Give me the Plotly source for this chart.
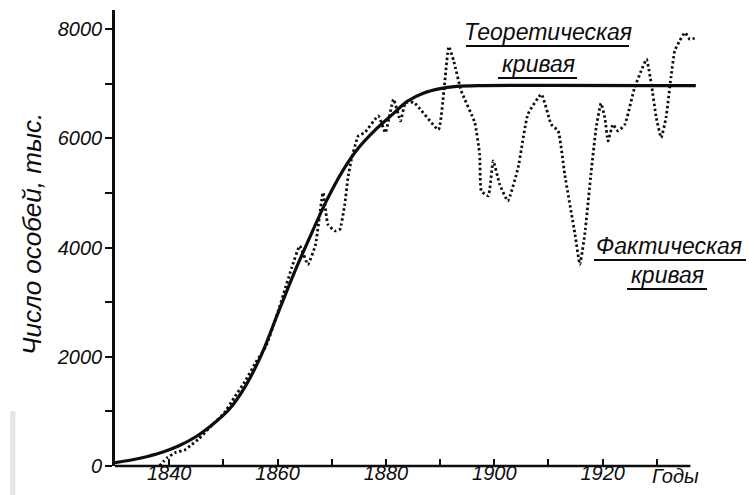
import plotly.graph_objects as go

# ---------------- data ----------------
theory_years = [1830, 1833, 1836, 1839, 1842, 1845, 1848, 1851, 1854, 1857, 1860,
                1863, 1866, 1869, 1872, 1875, 1878, 1881, 1884, 1887, 1890, 1893,
                1897, 1937.2]
theory_values = [60, 110, 175, 260, 380, 540, 760, 1030, 1450, 2030, 2780,
                 3520, 4200, 4850, 5400, 5830, 6150, 6420, 6680, 6830, 6910, 6950,
                 6965, 6965]

actual_years = [1838.2, 1839.6, 1841.2, 1842.8, 1844.0, 1845.5, 1848.0, 1850.0, 1852.0,
                1854.0, 1856.0, 1857.9, 1860.0, 1862.6, 1864.1, 1865.6, 1867.0, 1868.4,
                1869.3, 1870.6, 1871.5, 1872.4, 1873.0, 1873.6, 1874.9, 1876.1, 1878.6,
                1879.9, 1881.4, 1882.7, 1883.6, 1885.2, 1889.7, 1890.7, 1891.6, 1892.5,
                1893.9, 1896.4, 1897.3, 1897.6, 1898.9, 1899.8, 1901.0, 1902.5, 1904.4,
                1906.2, 1908.7, 1910.5, 1911.8, 1913.0, 1914.9, 1915.8, 1916.7, 1917.9,
                1918.8, 1919.7, 1920.4, 1921.0, 1921.9, 1922.8, 1924.1, 1925.9, 1927.1,
                1928.1, 1929.0, 1929.9, 1930.8, 1931.7, 1932.6, 1933.3, 1934.2, 1935.2,
                1936.1, 1937.4]
actual_values = [0, 150, 250, 290, 380, 500, 760, 950, 1250,
                 1550, 1900, 2200, 2800, 3625, 4030, 3690, 4050, 5006,
                 4425, 4304, 4333, 4791, 5280, 5600, 6044, 6104, 6410,
                 6104, 6714, 6319, 6654, 6654, 6160, 6868, 7680, 7420,
                 6868, 6288, 5707, 5037, 4945, 5586, 5158, 4853, 5463,
                 6440, 6806, 6256, 6136, 5341, 4242, 3692, 4242, 5403,
                 6196, 6640, 6379, 5952, 6256, 6136, 6256, 6929, 7234,
                 7448, 6989, 6379, 6013, 6379, 7112, 7601, 7784, 7936,
                 7814, 7845]

x_tick_vals = [1840, 1850, 1860, 1870, 1880, 1890, 1900, 1910, 1920, 1930]
x_tick_text = ["1840", "", "1860", "", "1880", "", "1900", "", "1920", ""]
y_tick_vals = [0, 1000, 2000, 3000, 4000, 5000, 6000, 7000, 8000]
y_tick_text = ["0", "", "2000", "", "4000", "", "6000", "", "8000"]
y_label = "Число особей, тыс."
x_unit = "Годы"
theory_label = ["Теоретическая", "кривая"]
actual_label = ["Фактическая", "кривая"]

# ---------------- layout geometry ----------------
W, H = 754, 495
ML, MR, MT, MB = 107, 64, 2, 37
X_RANGE = [1830, 1937.6]
Y_RANGE = [0, 8350]
X_AXIS_END = 1936.2

INK = "#0d0d0d"
FONT = "Liberation Sans, Arial, sans-serif"


def px(xp):
    return (xp - ML) / (W - ML - MR)


def py(yp):
    return (H - MB - yp) / (H - MT - MB)


fig = go.Figure()
fig.add_trace(go.Scatter(
    x=actual_years, y=actual_values, mode="lines",
    line=dict(color=INK, width=2.8, dash="2.4px,2.6px", shape="spline", smoothing=0.4),
    hoverinfo="skip", showlegend=False))
fig.add_trace(go.Scatter(
    x=theory_years, y=theory_values, mode="lines",
    line=dict(color=INK, width=3.2, shape="spline", smoothing=0.8),
    hoverinfo="skip", showlegend=False))

tickfont = dict(family=FONT, size=20, color=INK, style="italic")

fig.update_layout(
    width=W, height=H,
    margin=dict(l=ML, r=MR, t=MT, b=MB, pad=0),
    paper_bgcolor="white", plot_bgcolor="white",
    showlegend=False,
    xaxis=dict(range=X_RANGE, showline=False, showgrid=False, zeroline=False,
               tickmode="array", tickvals=x_tick_vals, ticktext=x_tick_text,
               ticks="inside", ticklen=7, tickwidth=2, tickcolor=INK,
               ticklabelstandoff=-7,
               tickfont=tickfont, fixedrange=True),
    yaxis=dict(range=Y_RANGE, showline=True, linewidth=2.6, linecolor=INK,
               showgrid=False, zeroline=False,
               tickmode="array", tickvals=y_tick_vals, ticktext=y_tick_text,
               ticks="outside", ticklen=7, tickwidth=2, tickcolor=INK,
               ticklabelstandoff=-1,
               tickfont=tickfont, fixedrange=True),
    yaxis2=dict(range=Y_RANGE, overlaying="y", anchor="x", side="left",
                showline=False, showgrid=False, zeroline=False,
                tickmode="array", tickvals=y_tick_vals, showticklabels=False,
                ticks="inside", ticklen=8, tickwidth=2, tickcolor=INK,
                fixedrange=True),
)

shapes = [
    dict(type="line", xref="paper", yref="paper",
         x0=0, x1=(X_AXIS_END - X_RANGE[0]) / (X_RANGE[1] - X_RANGE[0]), y0=0, y1=0,
         line=dict(color=INK, width=2.6)),
    dict(type="line", xref="paper", yref="paper", x0=px(458), x1=px(621), y0=py(38), y1=py(38),
         line=dict(color=INK, width=2)),
    dict(type="line", xref="paper", yref="paper", x0=px(490), x1=px(569), y0=py(70), y1=py(70),
         line=dict(color=INK, width=2)),
    dict(type="line", xref="paper", yref="paper", x0=px(586), x1=px(739), y0=py(252), y1=py(252),
         line=dict(color=INK, width=2)),
    dict(type="line", xref="paper", yref="paper", x0=px(619), x1=px(699), y0=py(281), y1=py(281),
         line=dict(color=INK, width=2)),
    dict(type="rect", xref="paper", yref="paper", x0=px(749.5), x1=px(756), y0=py(-2), y1=py(497),
         line=dict(width=0), fillcolor="#0a0a0a"),
    dict(type="rect", xref="paper", yref="paper", x0=px(2), x1=px(7.5), y0=py(403), y1=py(497),
         line=dict(width=0), fillcolor="#e6e6e6"),
]
fig.update_layout(shapes=shapes)

labfont = dict(family=FONT, size=23, color=INK, style="italic")
annotations = [
    dict(text=y_label, x=px(24), y=py(226), xref="paper", yref="paper", showarrow=False,
         textangle=-90, font=dict(family=FONT, size=26, color=INK, style="italic"),
         xanchor="center", yanchor="middle"),
    dict(text=x_unit, x=px(667), y=py(468), xref="paper", yref="paper", showarrow=False,
         font=tickfont, xanchor="center", yanchor="middle"),
    dict(text=theory_label[0], x=px(540), y=py(24), xref="paper", yref="paper", showarrow=False,
         font=labfont, xanchor="center", yanchor="middle"),
    dict(text=theory_label[1], x=px(530), y=py(56), xref="paper", yref="paper", showarrow=False,
         font=labfont, xanchor="center", yanchor="middle"),
    dict(text=actual_label[0], x=px(661), y=py(238), xref="paper", yref="paper", showarrow=False,
         font=labfont, xanchor="center", yanchor="middle"),
    dict(text=actual_label[1], x=px(659), y=py(267), xref="paper", yref="paper", showarrow=False,
         font=labfont, xanchor="center", yanchor="middle"),
]
fig.update_layout(annotations=annotations)

fig.write_html("out.html", config={"displayModeBar": False})
